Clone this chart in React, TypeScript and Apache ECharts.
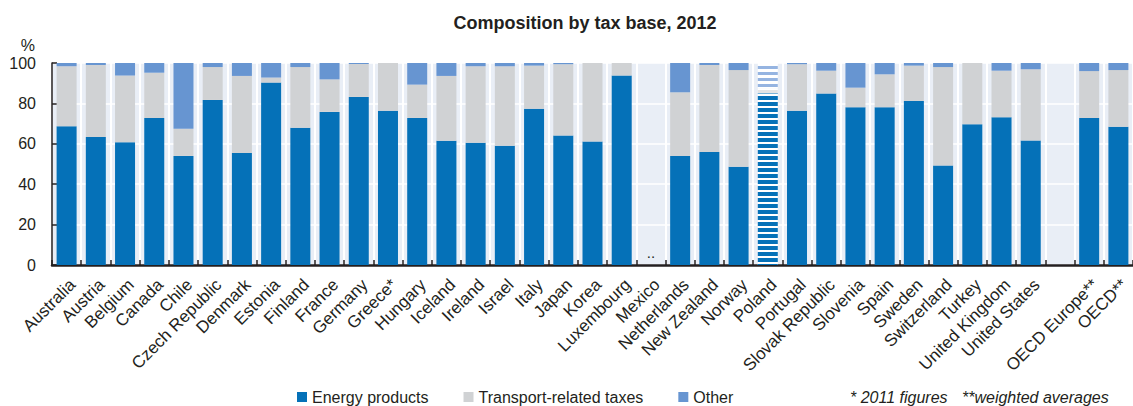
import React, { useEffect, useRef } from 'react';
import * as echarts from 'echarts';

const categories = [
  'Australia', 'Austria', 'Belgium', 'Canada', 'Chile', 'Czech Republic', 'Denmark', 'Estonia',
  'Finland', 'France', 'Germany', 'Greece*', 'Hungary', 'Iceland', 'Ireland', 'Israel', 'Italy',
  'Japan', 'Korea', 'Luxembourg', 'Mexico', 'Netherlands', 'New Zealand', 'Norway', 'Poland',
  'Portugal', 'Slovak Republic', 'Slovenia', 'Spain', 'Sweden', 'Switzerland', 'Turkey',
  'United Kingdom', 'United States', '', 'OECD Europe**', 'OECD**',
];

const energy = [
  68.7, 63.4, 60.8, 72.8, 54.0, 81.7, 55.5, 90.3, 68.0, 75.8, 83.2, 76.3, 72.8, 61.5, 60.5, 59.0,
  77.3, 64.1, 61.1, 93.8, 0, 53.9, 56.0, 48.6, 85.0, 76.3, 84.9, 78.1, 78.1, 81.2, 49.3, 69.7,
  73.2, 61.6, null, 72.8, 68.4,
];

const transport = [
  29.7, 35.6, 33.0, 22.4, 13.4, 16.3, 38.1, 2.5, 30.0, 16.1, 16.3, 23.7, 16.5, 32.1, 37.9, 39.4,
  21.4, 35.3, 38.9, 6.2, null, 31.6, 43.0, 47.9, 2.5, 23.1, 11.3, 9.7, 16.3, 17.5, 48.7, 30.3,
  23.0, 35.3, null, 23.2, 28.1,
];

const other = [
  1.6, 1.0, 6.2, 4.8, 32.6, 2.0, 6.4, 7.2, 2.0, 8.1, 0.5, 0, 10.7, 6.4, 1.6, 1.6,
  1.3, 0.6, 0, 0, null, 14.5, 1.0, 3.5, 12.5, 0.6, 3.8, 12.2, 5.6, 1.3, 2.0, 0,
  3.8, 3.1, null, 4.0, 3.5,
];

const yTicks = [0, 20, 40, 60, 80, 100];

const seriesNames = ['Energy products', 'Transport-related taxes', 'Other'];
const notes = ['* 2011 figures', '**weighted averages'];
const missingCategory = 'Mexico';
const hatchedCategory = 'Poland';

const FONT = '"Liberation Sans", Arial, Helvetica, sans-serif';
const COL_ENERGY = '#0571b8';
const COL_TRANSPORT = '#d0d2d4';
const COL_OTHER = '#6795d1';
const TEXT = '#231f20';

function stripe(color: string, dy: number[]) {
  return {
    color: '#ffffff',
    decal: {
      symbol: 'rect',
      symbolSize: 1,
      dashArrayX: [20, 0],
      dashArrayY: dy,
      color,
      rotation: 0,
    },
  };
}

export default function App() {
  const ref = useRef<HTMLDivElement>(null);

  useEffect(() => {
    if (!ref.current) return;
    const chart = echarts.init(ref.current, undefined, { renderer: 'svg' });

    const mk = (arr: (number | null)[], hatchColor: string, dy: number[], withMissing: boolean) =>
      arr.map((v, i) => {
        if (categories[i] === hatchedCategory) {
          return { value: v, itemStyle: stripe(hatchColor, dy) };
        }
        if (withMissing && categories[i] === missingCategory) {
          return {
            value: v,
            label: {
              show: true,
              position: 'top',
              distance: 5,
              formatter: '..',
              fontSize: 15,
              fontFamily: FONT,
              color: TEXT,
            },
          };
        }
        return v;
      });

    chart.setOption({
      animation: false,
      textStyle: { fontFamily: FONT },
      grid: {
        left: 52,
        top: 63,
        width: 1084,
        height: 202,
        show: true,
        backgroundColor: '#e9eef6',
        borderWidth: 0,
      },
      legend: {
        data: seriesNames,
        left: 297,
        top: 389,
        padding: 0,
        icon: 'rect',
        itemWidth: 10,
        itemHeight: 10,
        itemGap: 35,
        selectedMode: false,
        textStyle: { fontSize: 16, color: TEXT, fontFamily: FONT },
      },
      xAxis: {
        type: 'category',
        data: categories,
        boundaryGap: true,
        axisLine: { show: true, lineStyle: { color: TEXT, width: 2.5 } },
        axisTick: { show: true, inside: true, length: 5, interval: 0, lineStyle: { color: TEXT, width: 1.5 } },
        splitLine: { show: true, interval: 0, lineStyle: { color: '#ffffff', width: 2 } },
        axisLabel: {
          interval: 0,
          rotate: 45,
          margin: 11,
          verticalAlign: 'top',
          fontSize: 17,
          color: TEXT,
          fontFamily: FONT,
        },
      },
      yAxis: {
        type: 'value',
        min: yTicks[0],
        max: yTicks[yTicks.length - 1],
        interval: 20,
        axisLine: { show: true, lineStyle: { color: TEXT, width: 1.5 } },
        axisTick: { show: true, inside: true, length: 5, lineStyle: { color: TEXT, width: 1.5 } },
        splitLine: { show: true, lineStyle: { color: '#ffffff', width: 1.5 } },
        axisLabel: { fontSize: 16, color: TEXT, margin: 16, fontFamily: FONT },
      },
      series: [
        {
          name: seriesNames[0],
          type: 'bar',
          stack: 'total',
          barWidth: 20,
          itemStyle: { color: COL_ENERGY },
          data: mk(energy, COL_ENERGY, [4, 2], true),
        },
        {
          name: seriesNames[1],
          type: 'bar',
          stack: 'total',
          barWidth: 20,
          itemStyle: { color: COL_TRANSPORT },
          data: mk(transport, '#e4e4e4', [3, 3], false),
        },
        {
          name: seriesNames[2],
          type: 'bar',
          stack: 'total',
          barWidth: 20,
          itemStyle: { color: COL_OTHER },
          data: mk(other, '#95b4e1', [3, 3], false),
        },
      ],
      graphic: [
        {
          type: 'text',
          x: 585,
          y: 23,
          style: {
            text: 'Composition by tax base, 2012',
            fontSize: 18,
            fontWeight: 'bold',
            fontFamily: FONT,
            fill: TEXT,
            textAlign: 'center',
            textVerticalAlign: 'middle',
          },
        },
        {
          type: 'text',
          x: 35,
          y: 45,
          style: {
            text: '%',
            fontSize: 16,
            fontFamily: FONT,
            fill: TEXT,
            textAlign: 'right',
            textVerticalAlign: 'middle',
          },
        },
        {
          type: 'text',
          x: 850,
          y: 397,
          style: {
            text: notes[0],
            fontSize: 16,
            fontStyle: 'italic',
            fontFamily: FONT,
            fill: TEXT,
            textAlign: 'left',
            textVerticalAlign: 'middle',
          },
        },
        {
          type: 'text',
          x: 962,
          y: 397,
          style: {
            text: notes[1],
            fontSize: 16,
            fontStyle: 'italic',
            fontFamily: FONT,
            fill: TEXT,
            textAlign: 'left',
            textVerticalAlign: 'middle',
          },
        },
      ],
    });

    return () => chart.dispose();
  }, []);

  return (
    <div
      ref={ref}
      style={{ position: 'fixed', left: 0, top: 0, width: 1133, height: 406, background: '#ffffff' }}
    />
  );
}
